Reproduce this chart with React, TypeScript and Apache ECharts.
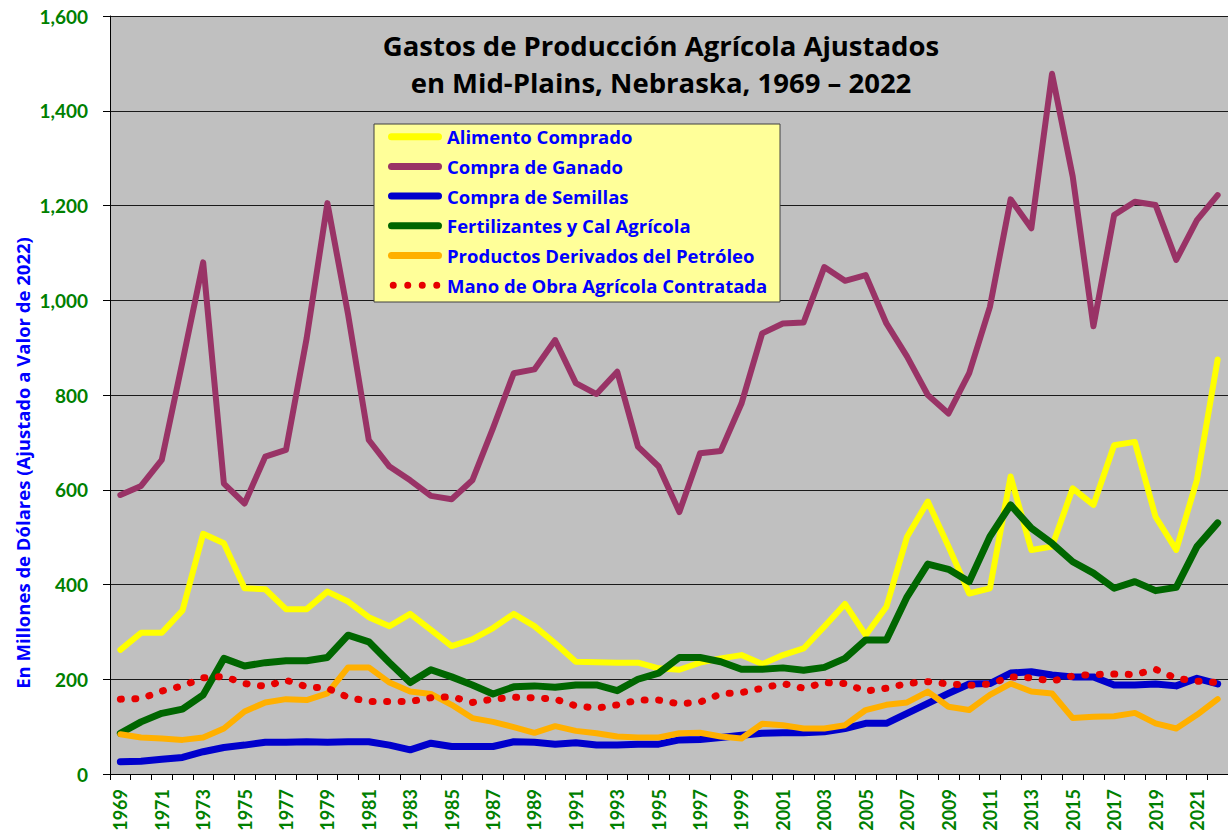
import React, { useEffect, useRef } from "react";
import * as echarts from "echarts";

const years: string[] = [];
for (let y = 1969; y <= 2022; y++) years.push(String(y));

const alimento = [262, 298, 298, 345, 507, 487, 392, 390, 348, 348,
  385, 364, 331, 312, 338, 304, 270, 284, 308, 338,
  312, 276, 237, 236, 235, 235, 223, 220, 235, 244,
  251, 232, 251, 265, 311, 359, 293, 353, 501, 575,
  480, 381, 392, 628, 473, 480, 603, 568, 694, 701,
  543, 473, 621, 875];

const ganado = [589, 608, 663, 870, 1080, 613, 571, 670, 684, 920,
  1205, 970, 705, 649, 620, 587, 580, 620, 730, 846,
  854, 916, 825, 802, 849, 691, 649, 553, 677, 682,
  782, 930, 951, 953, 1070, 1041, 1053, 951, 881, 800,
  761, 846, 986, 1213, 1152, 1478, 1261, 945, 1180, 1208,
  1201, 1085, 1169, 1222];

const semillas = [26, 27, 31, 35, 47, 56, 61, 67, 67, 68,
  67, 68, 68, 61, 51, 65, 58, 58, 58, 68,
  67, 63, 66, 61, 61, 63, 63, 72, 73, 77,
  82, 86, 87, 87, 89, 96, 107, 107, 128, 149,
  170, 190, 191, 213, 216, 209, 205, 205, 188, 188,
  190, 186, 202, 190];

const fertilizantes = [86, 110, 128, 137, 167, 244, 228, 235, 239, 239,
  246, 293, 279, 235, 193, 220, 205, 188, 169, 184,
  186, 183, 188, 188, 176, 200, 213, 246, 246, 237,
  221, 221, 224, 219, 225, 244, 283, 283, 374, 443,
  432, 406, 501, 568, 519, 487, 448, 424, 392, 406,
  387, 394, 480, 530];

const petroleo = [84, 77, 75, 72, 77, 96, 132, 151, 158, 156,
  170, 225, 225, 193, 174, 169, 146, 118, 110, 99,
  87, 101, 91, 86, 79, 77, 77, 86, 87, 79,
  75, 106, 103, 96, 96, 103, 135, 146, 151, 174,
  142, 135, 167, 191, 174, 170, 118, 121, 122, 129,
  107, 96, 125, 158];

const manoObra = [158, 159, 175, 186, 203, 206, 191, 185, 198, 184,
  181, 162, 153, 153, 153, 161, 163, 151, 158, 162,
  161, 158, 144, 139, 146, 156, 156, 148, 152, 169,
  172, 181, 191, 181, 193, 191, 175, 181, 191, 195,
  190, 187, 190, 205, 203, 196, 207, 210, 211, 210,
  221, 202, 196, 193];

const seriesNames = [
  "Alimento Comprado",
  "Compra de Ganado",
  "Compra de Semillas",
  "Fertilizantes y Cal Agrícola",
  "Productos Derivados del Petróleo",
  "Mano de Obra Agrícola Contratada",
];
const seriesColors = ["#FFFF00", "#993366", "#0000CC", "#006600", "#FFB000", "#E60000"];
const seriesData = [alimento, ganado, semillas, fertilizantes, petroleo, manoObra];

const titleLines = ["Gastos de Producción Agrícola Ajustados", "en Mid-Plains, Nebraska, 1969 – 2022"];
const yAxisTitle = "En Millones de Dólares (Ajustado a Valor de 2022)";

const FONT = "Lato, 'Open Sans', sans-serif";
const TFONT = "'Open Sans', Lato, sans-serif";

const capsuleIcon = "path://M3.5,0L50.5,0A3.5,3.5 0 0 1 50.5,7L3.5,7A3.5,3.5 0 0 1 3.5,0Z";
const dotsIcon =
  "path://M0,3.5A3.5,3.5 0 1 0 7,3.5A3.5,3.5 0 1 0 0,3.5Z" +
  "M14.5,3.5A3.5,3.5 0 1 0 21.5,3.5A3.5,3.5 0 1 0 14.5,3.5Z" +
  "M29,3.5A3.5,3.5 0 1 0 36,3.5A3.5,3.5 0 1 0 29,3.5Z" +
  "M43.5,3.5A3.5,3.5 0 1 0 50.5,3.5A3.5,3.5 0 1 0 43.5,3.5Z";

export default function App() {
  const ref = useRef<HTMLDivElement>(null);
  useEffect(() => {
    if (!ref.current) return;
    const chart = echarts.init(ref.current, null, { renderer: "svg" });
    const series = seriesNames.map((name, i) => {
      const dotted = i === 5;
      return {
        name,
        type: "line",
        data: seriesData[i],
        symbol: "none",
        showSymbol: false,
        smooth: false,
        z: 2 + i,
        itemStyle: { color: seriesColors[i] },
        lineStyle: {
          color: seriesColors[i],
          width: i === 2 || i === 3 ? 7 : dotted ? 7 : 6,
          type: dotted ? [1, 13.5] : "solid",
          cap: "round",
          join: "round",
        },
      };
    });
    const option: any = {
      animation: false,
      backgroundColor: "#ffffff",
      textStyle: { fontFamily: FONT },
      grid: {
        left: 110,
        right: 0,
        top: 16,
        bottom: 63,
        show: true,
        backgroundColor: "#C0C0C0",
        borderWidth: 0,
        containLabel: false,
        outerBoundsMode: "none",
      },
      xAxis: {
        type: "category",
        data: years,
        boundaryGap: true,
        axisLine: { show: true, lineStyle: { color: "#000", width: 1 } },
        axisTick: { show: true, interval: 0, length: 6, lineStyle: { color: "#000" } },
        axisLabel: {
          interval: 1,
          rotate: 90,
          margin: 15,
          color: "#008000",
          fontWeight: "bold",
          fontSize: 18,
          fontFamily: FONT,
        },
        splitLine: { show: false },
      },
      yAxis: {
        type: "value",
        min: 0,
        max: 1600,
        interval: 200,
        axisLine: { show: true, lineStyle: { color: "#000", width: 1 } },
        axisTick: { show: true, length: 7, lineStyle: { color: "#000" } },
        axisLabel: {
          margin: 22,
          color: "#008000",
          fontWeight: "bold",
          fontSize: 19,
          fontFamily: FONT,
          formatter: (v: number) => v.toLocaleString("en-US"),
        },
        splitLine: { show: true, lineStyle: { color: "#1a1a1a", width: 1 } },
      },
      legend: {
        orient: "vertical",
        left: 388,
        top: 126.7,
        padding: 0,
        itemWidth: 54,
        itemHeight: 7,
        itemGap: 9.7,
        selectedMode: false,
        z: 20,
        itemStyle: { borderWidth: 0 },
        textStyle: { color: "#0000FF", fontWeight: "bold", fontSize: 18.5, fontFamily: TFONT, lineHeight: 20 },
        data: seriesNames.map((name, i) => ({ name, icon: i === 5 ? dotsIcon : capsuleIcon })),
      },
      graphic: [
        {
          type: "rect",
          z: 15,
          shape: { x: 374, y: 124, width: 406, height: 178 },
          style: { fill: "#FFFF99", stroke: "#404040", lineWidth: 1 },
        },
        {
          type: "text",
          z: 15,
          x: 661,
          y: 45,
          style: {
            text: titleLines[0],
            fill: "#000",
            fontSize: 27.5,
            fontWeight: "bold",
            fontFamily: TFONT,
            align: "center",
            verticalAlign: "middle",
          },
        },
        {
          type: "text",
          z: 15,
          x: 661,
          y: 82,
          style: {
            text: titleLines[1],
            fill: "#000",
            fontSize: 27.5,
            fontWeight: "bold",
            fontFamily: TFONT,
            align: "center",
            verticalAlign: "middle",
          },
        },
        {
          type: "text",
          z: 15,
          x: 22,
          y: 463,
          rotation: Math.PI / 2,
          style: {
            text: yAxisTitle,
            fill: "#0000FF",
            fontSize: 18.5,
            fontWeight: "bold",
            fontFamily: TFONT,
            align: "center",
            verticalAlign: "middle",
          },
        },
      ],
      series,
    };
    chart.setOption(option);
    return () => chart.dispose();
  }, []);
  return (
    <div
      ref={ref}
      style={{ position: "absolute", left: 0, top: 0, width: 1228, height: 837 }}
    />
  );
}
